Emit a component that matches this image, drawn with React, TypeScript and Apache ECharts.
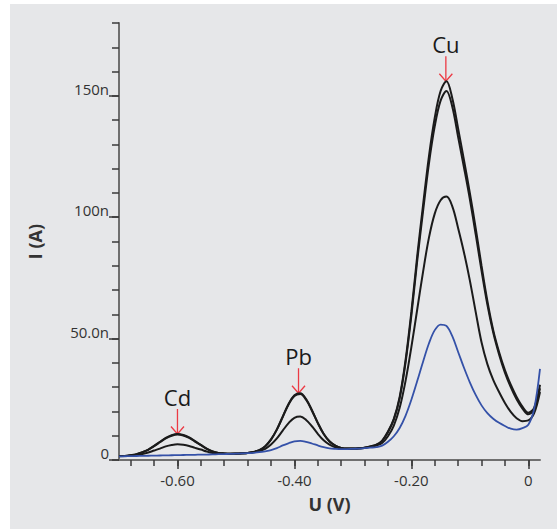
import React, { useEffect, useRef } from 'react';
import * as echarts from 'echarts';

// Potential (V), 10 mV steps
const voltages = [
  -0.70, -0.69, -0.68, -0.67, -0.66, -0.65, -0.64, -0.63, -0.62, -0.61,
  -0.60, -0.59, -0.58, -0.57, -0.56, -0.55, -0.54, -0.53, -0.52, -0.51,
  -0.50, -0.49, -0.48, -0.47, -0.46, -0.45, -0.44, -0.43, -0.42, -0.41,
  -0.40, -0.39, -0.38, -0.37, -0.36, -0.35, -0.34, -0.33, -0.32, -0.31,
  -0.30, -0.29, -0.28, -0.27, -0.26, -0.25, -0.24, -0.23, -0.22, -0.21,
  -0.20, -0.19, -0.18, -0.17, -0.16, -0.15, -0.14, -0.13, -0.12, -0.11,
  -0.10, -0.09, -0.08, -0.07, -0.06, -0.05, -0.04, -0.03, -0.02, -0.01,
  0, 0.01, 0.02,
];

// Currents (nA)
const currentA = [
  1.6, 1.7, 2.0, 2.4, 3.2, 4.3, 5.8, 7.5, 9.1, 10.2,
  10.7, 10.3, 9.3, 7.8, 6.2, 4.7, 3.5, 2.9, 2.7, 2.6,
  2.65, 2.75, 2.9, 3.3, 4.1, 5.7, 8.5, 12.6, 17.9, 23.1,
  26.7, 27.5, 25.1, 20.5, 15.3, 10.8, 7.7, 5.9, 5.0, 4.7,
  4.7, 4.8, 5.1, 5.6, 6.3, 8.0, 11.7, 17.0, 26, 41,
  61, 84, 105, 125, 141, 152, 156, 149, 136.5, 123.5,
  110, 95.5, 80, 65.5, 53.5, 44.5, 37, 31, 26, 22,
  19.5, 21.5, 31,
];
const currentB = [
  1.6, 1.7, 2.0, 2.4, 3.2, 4.2, 5.7, 7.3, 8.9, 10.0,
  10.5, 10.1, 9.1, 7.6, 6.1, 4.6, 3.5, 2.9, 2.7, 2.6,
  2.65, 2.75, 2.9, 3.3, 4.1, 5.6, 8.4, 12.5, 17.7, 22.9,
  26.4, 27.2, 24.8, 20.3, 15.2, 10.7, 7.6, 5.9, 5.0, 4.7,
  4.7, 4.8, 5.1, 5.6, 6.2, 7.8, 11.4, 16.6, 25.4, 40,
  59.5, 82, 102.5, 122, 137.5, 148, 152, 145.5, 133, 120.5,
  107.5, 93, 78, 64, 52.5, 43.5, 36, 30, 25, 21.2,
  18.8, 20.8, 29.5,
];
const currentC = [
  1.5, 1.6, 1.8, 2.05, 2.5, 3.1, 3.9, 4.7, 5.6, 6.2,
  6.5, 6.3, 5.8, 5.0, 4.3, 3.5, 2.9, 2.7, 2.6, 2.6,
  2.6, 2.7, 2.9, 3.2, 3.7, 4.6, 6.4, 8.9, 12.1, 15.2,
  17.4, 17.9, 16.5, 13.9, 10.8, 8.1, 6.3, 5.2, 4.8, 4.6,
  4.6, 4.7, 5.0, 5.4, 6.0, 7.0, 9.8, 14.2, 21.5, 32.5,
  46.5, 62, 77.5, 91.5, 101.5, 107, 108.5, 104.5, 95.5, 85.5,
  74, 61, 48.5, 39.5, 33, 28, 23.5, 19.8, 17.2, 16,
  16.3, 19.3, 28,
];
const currentBlank = [
  1.5, 1.55, 1.6, 1.65, 1.7, 1.75, 1.8, 1.85, 1.9, 1.95,
  2.0, 2.05, 2.1, 2.15, 2.2, 2.25, 2.3, 2.4, 2.45, 2.5,
  2.6, 2.7, 2.8, 2.95, 3.2, 3.6, 4.1, 4.9, 6.0, 6.9,
  7.7, 7.9, 7.5, 6.8, 6.0, 5.3, 4.8, 4.6, 4.5, 4.5,
  4.6, 4.7, 4.9, 5.1, 5.3, 5.9, 7.5, 9.8, 13.2, 18.2,
  24.8, 32.5, 40.5, 48, 53.5, 55.8, 55.2, 51, 44.5, 38,
  32, 26.8, 22.5, 19.3, 17, 15.3, 14, 12.9, 12.5, 13.1,
  14.5, 21, 37.5,
];

// Axis ticks / labels
const xLabelValues = [-0.6, -0.4, -0.2, 0];
const xLabelTexts = ['-0.60', '-0.40', '-0.20', '0'];
const xMinorTickValues = [
  -0.68, -0.64, -0.6, -0.56, -0.52, -0.48, -0.44, -0.4, -0.36,
  -0.32, -0.28, -0.24, -0.2, -0.16, -0.12, -0.08, -0.04, 0,
];
const yLabelValues = [0, 50, 100, 150];
const yLabelTexts = ['0', '50.0n', '100n', '150n'];
const yMinorTickValues = [0, 10, 20, 30, 40, 50, 60, 70, 80, 90, 100, 110, 120, 130, 140, 150, 160, 170, 180];

// Peak annotations
const peakLabels = ['Cd', 'Pb', 'Cu'];
const peakVoltages = [-0.6, -0.393, -0.141];
const peakCurrents = [10.7, 27.5, 156];

const FONT = "'Open Sans', 'Noto Sans', sans-serif";

function pickLabel(values: number[], texts: string[], v: number) {
  const i = values.findIndex((t) => Math.abs(t - v) < 1e-9);
  return i >= 0 ? texts[i] : '';
}

export default function App() {
  const ref = useRef<HTMLDivElement>(null);

  useEffect(() => {
    document.body.style.margin = '0';
    const chart = echarts.init(ref.current!, null, { renderer: 'svg' });
    const toPairs = (vals: number[]) => voltages.map((v, i) => [v, vals[i]]);
    const axisColor = '#6f6f6f';
    const tickColor = '#3a3a3a';

    const lineSeries = (name: string, vals: number[], color: string, width: number) => ({
      type: 'line',
      name,
      data: toPairs(vals),
      xAxisIndex: 0,
      yAxisIndex: 0,
      symbol: 'none',
      showSymbol: false,
      smooth: 0.35,
      silent: true,
      lineStyle: { color, width },
    });

    chart.setOption({
      animation: false,
      backgroundColor: 'transparent',
      grid: { left: 119, right: 17, top: 23, bottom: 69, containLabel: false },
      xAxis: [
        {
          type: 'value',
          min: -0.7,
          max: 0.02,
          position: 'bottom',
          axisLine: { show: true, onZero: false, lineStyle: { color: axisColor, width: 2 } },
          axisTick: { show: true, customValues: xLabelValues, length: 9, lineStyle: { color: tickColor, width: 1.5 } },
          axisLabel: {
            customValues: xLabelValues,
            formatter: (v: number) => pickLabel(xLabelValues, xLabelTexts, v),
            margin: 12,
            fontSize: 15,
            color: '#333',
            fontFamily: FONT,
          },
          splitLine: { show: false },
          name: 'U (V)',
          nameLocation: 'middle',
          nameGap: 35,
          nameTextStyle: { fontSize: 18, fontWeight: 'bold', color: '#333', fontFamily: FONT },
        },
        {
          type: 'value',
          min: -0.7,
          max: 0.02,
          position: 'bottom',
          axisLine: { show: false, onZero: false },
          axisTick: { show: true, customValues: xMinorTickValues, length: 6, lineStyle: { color: tickColor, width: 1.5 } },
          axisLabel: { show: false },
          splitLine: { show: false },
        },
      ],
      yAxis: [
        {
          type: 'value',
          min: 0,
          max: 180,
          position: 'left',
          axisLine: { show: true, onZero: false, lineStyle: { color: axisColor, width: 2 } },
          axisTick: { show: true, customValues: yLabelValues, length: 10, lineStyle: { color: tickColor, width: 1.5 } },
          axisLabel: {
            customValues: yLabelValues,
            formatter: (v: number) => pickLabel(yLabelValues, yLabelTexts, v),
            margin: 10,
            fontSize: 15,
            color: '#333',
            fontFamily: FONT,
            verticalAlign: 'bottom',
            lineHeight: 14,
          },
          splitLine: { show: false },
          name: 'I (A)',
          nameLocation: 'middle',
          nameRotate: 90,
          nameGap: 75,
          nameTextStyle: { fontSize: 18, fontWeight: 'bold', color: '#333', fontFamily: FONT },
        },
        {
          type: 'value',
          min: 0,
          max: 180,
          position: 'left',
          offset: 0,
          axisLine: { show: false, onZero: false },
          axisTick: { show: true, customValues: yMinorTickValues, length: 7, lineStyle: { color: tickColor, width: 1.5 } },
          axisLabel: { show: false },
          splitLine: { show: false },
        },
      ],
      series: [
        lineSeries('A', currentA, '#1b1b1b', 2),
        lineSeries('B', currentB, '#1b1b1b', 2),
        lineSeries('C', currentC, '#1b1b1b', 2),
        lineSeries('Blank', currentBlank, '#3451a8', 1.8),
      ],
    });

    const arrowColor = '#ec3a44';
    const graphics: any[] = [];
    peakLabels.forEach((name, i) => {
      const p = chart.convertToPixel({ seriesIndex: 0 }, [peakVoltages[i], peakCurrents[i]]) as number[];
      const px = p[0];
      const py = p[1];
      graphics.push({
        type: 'text',
        x: px,
        y: py - 37,
        style: {
          text: name,
          fontSize: 22,
          fontWeight: 500,
          fontFamily: FONT,
          fill: '#1a1a1a',
          align: 'center',
          verticalAlign: 'middle',
        },
      });
      graphics.push({
        type: 'line',
        shape: { x1: px, y1: py - 25, x2: px, y2: py },
        style: { stroke: arrowColor, lineWidth: 1.3 },
      });
      graphics.push({
        type: 'polyline',
        shape: { points: [[px - 6.5, py - 7.5], [px, py], [px + 6.5, py - 7.5]] },
        style: { stroke: arrowColor, lineWidth: 1.3, fill: 'none' },
      });
    });
    chart.setOption({ graphic: graphics });

    return () => chart.dispose();
  }, []);

  return (
    <div style={{ position: 'relative', width: 557, height: 529, background: '#ffffff' }}>
      <div style={{ position: 'absolute', left: 10, top: 4, right: 0, bottom: 0, background: '#e6e7e9' }} />
      <div ref={ref} style={{ position: 'absolute', left: 0, top: 0, width: 557, height: 529 }} />
    </div>
  );
}
